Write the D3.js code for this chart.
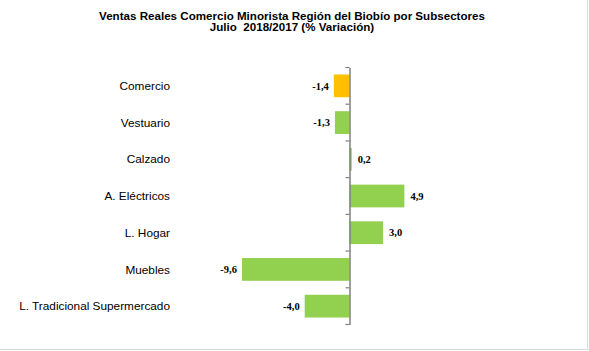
<!DOCTYPE html>
<html><head><meta charset="utf-8">
<script src="https://cdn.jsdelivr.net/npm/d3@7/dist/d3.min.js"></script>
<style>body{margin:0;background:#fff}svg{display:block}</style>
</head><body><svg id="c" width="589" height="351"></svg>
<script>
const categories = ["Comercio","Vestuario","Calzado","A. Eléctricos","L. Hogar","Muebles","L. Tradicional Supermercado"];
const values = [-1.4,-1.3,0.2,4.9,3.0,-9.6,-4.0];
const valueLabels = ["-1,4","-1,3","0,2","4,9","3,0","-9,6","-4,0"];
const titleLines = ["Ventas Reales Comercio Minorista Región del Biobío por Subsectores","Julio  2018/2017 (% Variación)"];

const svg = d3.select("#c");
svg.append("rect").attr("x",0).attr("y",0).attr("width",589).attr("height",351).attr("fill","#fff");
svg.append("line").attr("x1",0).attr("x2",588.5).attr("y1",349.5).attr("y2",349.5).attr("stroke","#d9d9d9");
svg.append("line").attr("x1",587.5).attr("x2",587.5).attr("y1",0).attr("y2",350).attr("stroke","#d9d9d9");

const x = d3.scaleLinear().domain([-10,6]).range([237.5,416.7]);
const y = d3.scaleBand().domain(categories).range([67.5,324.5]).paddingInner(0.38).paddingOuter(0.19);

svg.selectAll("rect.bar").data(values).enter().append("rect")
  .attr("class","bar")
  .attr("x",d=>Math.min(x(0),x(d)))
  .attr("width",d=>Math.abs(x(d)-x(0)))
  .attr("y",(d,i)=>y(categories[i]))
  .attr("height",y.bandwidth())
  .attr("fill",(d,i)=>i===0?"#FFC000":"#92D050");

const ax = svg.append("g").attr("transform",`translate(${x(0)},0)`)
  .call(d3.axisLeft(y.copy().paddingInner(0).paddingOuter(0)).tickSize(0).tickFormat(""));
ax.select(".domain").attr("stroke","#7f7f7f").attr("stroke-width",1.5);
const step = (324.5-67.5)/categories.length;
const edges = d3.range(categories.length+1).map(i=>67.5+i*step);
svg.selectAll("line.tk").data(edges).enter().append("line")
  .attr("x1",x(0)-4).attr("x2",x(0)).attr("y1",d=>d).attr("y2",d=>d)
  .attr("stroke","#7f7f7f").attr("stroke-width",1.2);

svg.selectAll("text.cat").data(categories).enter().append("text")
  .attr("x",170).attr("y",d=>y(d)+y.bandwidth()/2).attr("dy","0.35em")
  .attr("text-anchor","end").attr("font-family","Liberation Sans, Arial, sans-serif")
  .attr("font-size",11.8).attr("fill","#000").text(d=>d);

svg.selectAll("text.val").data(values).enter().append("text")
  .attr("x",d=>d<0?x(d)-5:x(d)+6)
  .attr("y",(d,i)=>y(categories[i])+y.bandwidth()/2).attr("dy","0.35em")
  .attr("text-anchor",d=>d<0?"end":"start")
  .attr("font-family","Liberation Serif, Times New Roman, serif").attr("font-weight","bold")
  .attr("font-size",10.5).attr("fill","#000").text((d,i)=>valueLabels[i]);

svg.selectAll("text.title").data(titleLines).enter().append("text")
  .attr("x",292).attr("y",(d,i)=>19.5+i*11.5)
  .attr("text-anchor","middle").attr("font-family","Liberation Sans, Arial, sans-serif")
  .style("white-space","pre")
  .attr("font-weight","bold").attr("font-size",11.6).attr("fill","#000").text(d=>d);
</script></body></html>
